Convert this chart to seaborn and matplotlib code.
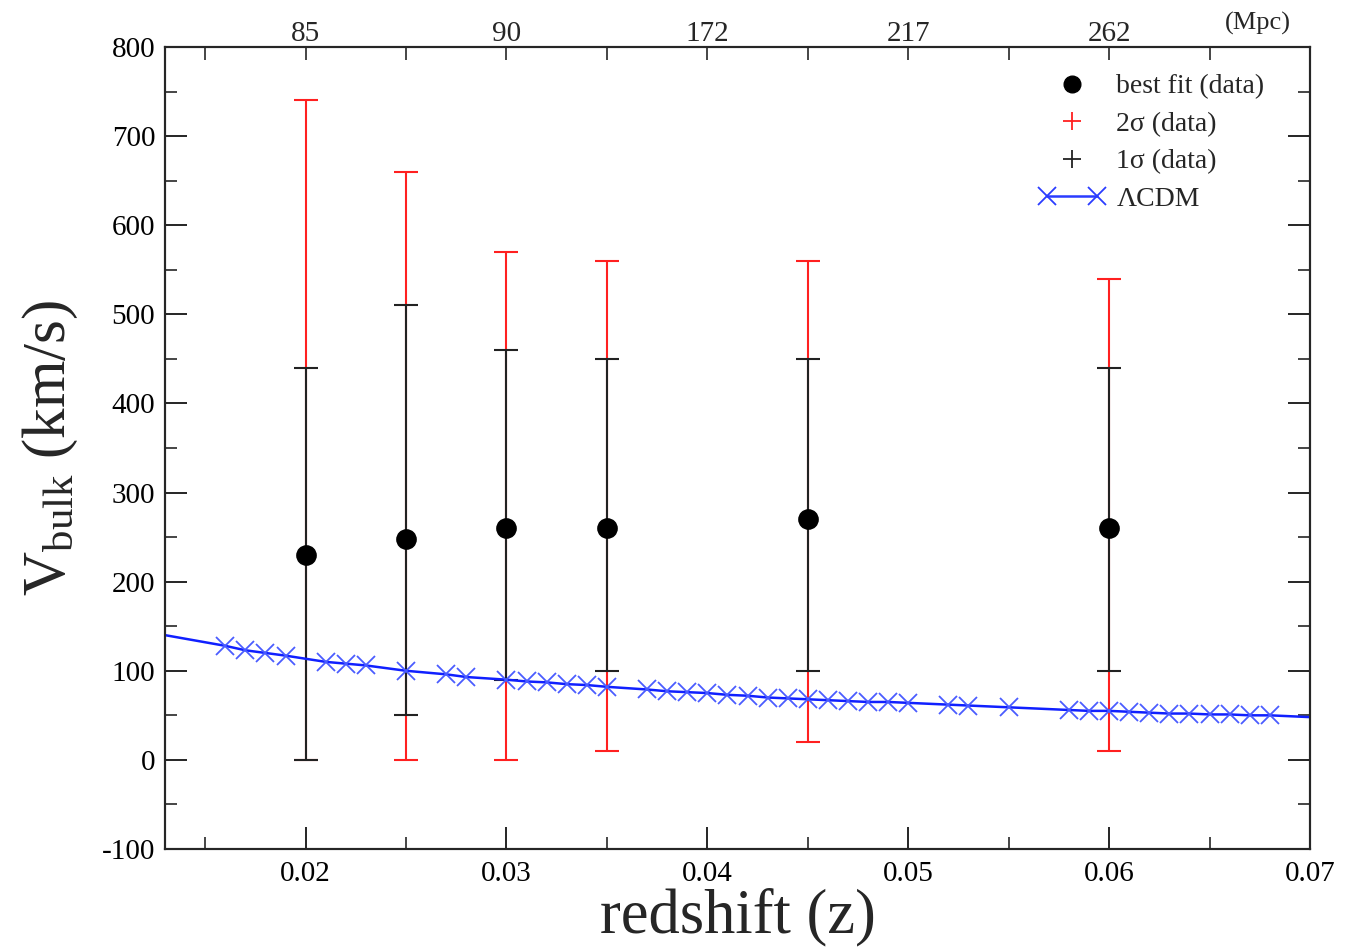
import numpy as np
import pandas as pd
import matplotlib
matplotlib.use("Agg")
import matplotlib.pyplot as plt
import seaborn as sns
from matplotlib.lines import Line2D
from matplotlib.legend_handler import HandlerLine2D
from matplotlib.ticker import MultipleLocator, FixedLocator

# ---------------- data ----------------
Z_DATA = [0.02, 0.025, 0.03, 0.035, 0.045, 0.06]
V_BEST = [230, 248, 260, 260, 270, 260]
ONE_SIG_LO = [0, 50, 90, 100, 100, 100]
ONE_SIG_HI = [440, 510, 460, 450, 450, 440]
TWO_SIG_LO = [0, 0, 0, 10, 20, 10]
TWO_SIG_HI = [740, 660, 570, 560, 560, 540]

LCDM_MARK_Z = [0.016, 0.017, 0.018, 0.019, 0.021, 0.022, 0.023, 0.025, 0.027, 0.028,
               0.030, 0.031, 0.032, 0.033, 0.034, 0.035, 0.037, 0.038, 0.039, 0.040,
               0.041, 0.042, 0.043, 0.044, 0.045, 0.046, 0.047, 0.048, 0.049, 0.050,
               0.052, 0.053, 0.055, 0.058, 0.059, 0.060, 0.061, 0.062, 0.063, 0.064,
               0.065, 0.066, 0.067, 0.068]
LCDM_MARK_V = [128, 123, 120, 117, 110, 108, 106, 100, 96, 93,
               90, 88, 87, 85, 84, 82, 79, 77, 76, 75,
               73, 72, 70, 69, 68, 67, 66, 65, 65, 64,
               62, 61, 59, 56, 55, 55, 54, 53, 52, 52,
               51, 51, 50, 50]
LCDM_LINE_Z = [0.013] + LCDM_MARK_Z + [0.07]
LCDM_LINE_V = [140] + LCDM_MARK_V + [48]

TOP_TICK_Z = [0.02, 0.03, 0.04, 0.05, 0.06]
TOP_TICK_LABELS = ["85", "90", "172", "217", "262"]

# ---------------- style ----------------
sns.set_theme(style="ticks")
plt.rcParams["font.family"] = ["Liberation Serif", "DejaVu Serif"]
plt.rcParams["mathtext.fontset"] = "custom"
plt.rcParams["mathtext.rm"] = "Liberation Serif"
plt.rcParams["mathtext.it"] = "Liberation Serif:italic"
plt.rcParams["axes.unicode_minus"] = False

fig = plt.figure(figsize=(13.48, 9.52), dpi=100)
fig.patch.set_facecolor("white")
ax = fig.add_axes([0.1224, 0.1082, 0.8494, 0.8424])
ax.set_facecolor("white")

d = pd.DataFrame({"z": Z_DATA, "v": V_BEST})
vb = np.array(V_BEST)

# 2 sigma (red)
ax.errorbar(Z_DATA, vb, yerr=[vb - np.array(TWO_SIG_LO), np.array(TWO_SIG_HI) - vb],
            fmt="none", ecolor="#ff2020", elinewidth=1.5, capsize=8.5, capthick=1.5, zorder=2)
# 1 sigma (black)
ax.errorbar(Z_DATA, vb, yerr=[vb - np.array(ONE_SIG_LO), np.array(ONE_SIG_HI) - vb],
            fmt="none", ecolor="#222222", elinewidth=1.5, capsize=8.5, capthick=1.5, zorder=3)

# LCDM
sns.lineplot(x=LCDM_LINE_Z, y=LCDM_LINE_V, ax=ax, color="#1020ff", linewidth=1.8,
             zorder=4, legend=False)
ax.plot(LCDM_MARK_Z, LCDM_MARK_V, linestyle="none", marker="x", markersize=13,
        markeredgewidth=1.3, color="#4a5cff", zorder=5)

# best fit
sns.scatterplot(data=d, x="z", y="v", ax=ax, color="black", s=190, marker="o",
                edgecolor="black", zorder=6, legend=False)

# ---------------- axes ----------------
ax.set_xlim(0.013, 0.07)
ax.set_ylim(-100, 800)
ax.xaxis.set_major_locator(MultipleLocator(0.01))
ax.xaxis.set_minor_locator(MultipleLocator(0.005))
ax.yaxis.set_major_locator(MultipleLocator(100))
ax.yaxis.set_minor_locator(MultipleLocator(50))
ax.set_xticks([0.02, 0.03, 0.04, 0.05, 0.06, 0.07])
ax.set_xticklabels(["0.02", "0.03", "0.04", "0.05", "0.06", "0.07"])
ax.tick_params(axis="both", which="major", direction="in", length=16, width=1.2,
               labelsize=21, colors="black", right=True, top=False)
ax.tick_params(axis="both", which="minor", direction="in", length=8.5, width=1.2,
               right=True, top=False)
ax.tick_params(axis="x", which="major", pad=9)
ax.tick_params(axis="y", which="major", pad=7)
for s in ax.spines.values():
    s.set_linewidth(1.5)
    s.set_color("black")

ax.set_xlabel("redshift (z)", fontsize=45, labelpad=0)
ax.set_ylabel(r"$\mathrm{V_{bulk}}$ (km/s)", fontsize=44, labelpad=16)

# top axis
top = ax.twiny()
top.set_xlim(ax.get_xlim())
top.set_xticks(TOP_TICK_Z)
top.set_xticklabels(TOP_TICK_LABELS)
top.xaxis.set_minor_locator(FixedLocator([0.015, 0.025, 0.035, 0.045, 0.055, 0.065]))
top.tick_params(axis="x", which="both", direction="in", length=9, width=1.2,
                labelsize=21, pad=0)
for s in top.spines.values():
    s.set_linewidth(1.5)
fig.text(0.933, 0.975, "(Mpc)", fontsize=19, ha="center", va="center")

# legend
h_best = Line2D([], [], linestyle="none", marker="o", markersize=12, color="black")
h_two = Line2D([], [], linestyle="none", marker="+", markersize=13, markeredgewidth=1.3,
               color="#ff2020")
h_one = Line2D([], [], linestyle="none", marker="+", markersize=13, markeredgewidth=1.3,
               color="#222222")
h_lcdm = Line2D([], [], linestyle="-", linewidth=1.8, marker="x", markersize=13,
                markeredgewidth=1.3, color="#2a3cff")
leg = ax.legend([h_best, h_two, h_one, h_lcdm],
                ["best fit (data)", "2σ (data)", "1σ (data)", "ΛCDM"],
                loc="upper right", bbox_to_anchor=(0.970, 0.980), borderaxespad=0,
                frameon=False, fontsize=20, numpoints=1, handlelength=2.4,
                handletextpad=0.4, labelspacing=0.43,
                handler_map={h_lcdm: HandlerLine2D(numpoints=2)})

fig.savefig("out.png", dpi=100, facecolor="white")
